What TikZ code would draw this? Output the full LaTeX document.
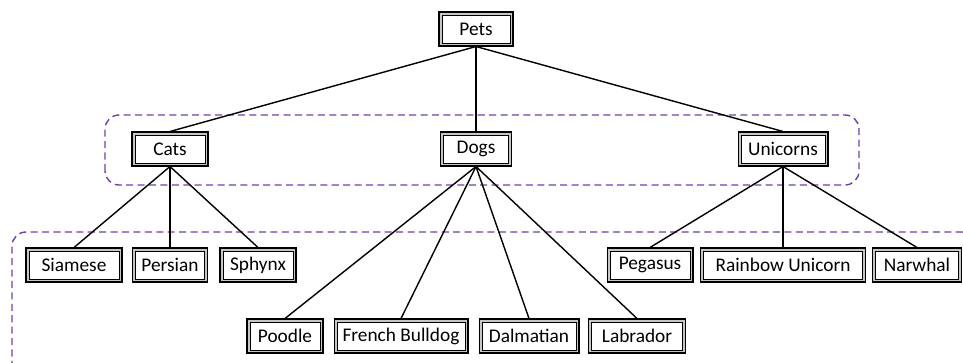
\documentclass[tikz,border=0pt]{standalone}
\usepackage{fontspec}
\setmainfont{Carlito}
\usepackage{tikz}
\usetikzlibrary{calc}

\definecolor{groupviolet}{RGB}{112,64,170}

\tikzset{
  petbox/.style={fill=white, draw=black, line width=0.45pt,
    preaction={draw=black, line width=4pt},
    preaction={draw=gray!45, line width=2.4pt},
    outer sep=2pt, minimum height=0.56cm, inner sep=2pt, font=\fontsize{11}{13}\selectfont},
  branch/.style={line width=0.8pt},
  groupframe/.style={draw=groupviolet, line width=0.8pt, dash pattern=on 4pt off 2.5pt, rounded corners=8pt}
}

\begin{document}
\begin{tikzpicture}[x=0.02cm,y=0.02cm]
  \useasboundingbox (0,0) rectangle (963,362);
  \clip (0,0) rectangle (963,362);

  % --------------------
  % Group frames
  % --------------------
  \draw[groupframe] (105,177) rectangle (859,247);
  \draw[groupframe] (12,-20) rectangle (975,130);

  % --------------------
  % Root
  % --------------------
  \node[petbox, minimum width=1.36cm] (pets) at (476,333) {Pets};

  % --------------------
  % Kinds
  % --------------------
  \node[petbox, minimum width=1.40cm] (cats)     at (170,213) {Cats};
  \node[petbox, minimum width=1.30cm] (dogs)     at (476,213) {Dogs};
  \node[petbox, minimum width=1.68cm] (unicorns) at (783,213) {Unicorns};

  % --------------------
  % Breeds
  % --------------------
  \node[petbox, minimum width=1.80cm] (siamese) at (74,97)  {Siamese};
  \node[petbox, minimum width=1.38cm] (persian) at (170,97) {Persian};
  \node[petbox, minimum width=1.40cm] (sphynx)  at (258,97) {Sphynx};

  \node[petbox, minimum width=1.40cm] (poodle)    at (285,26) {Poodle};
  \node[petbox, minimum width=2.56cm] (bulldog)   at (401,26) {French Bulldog};
  \node[petbox, minimum width=1.88cm] (dalmatian) at (529,26) {Dalmatian};
  \node[petbox, minimum width=1.82cm] (labrador)  at (637,26) {Labrador};

  \node[petbox, minimum width=1.60cm] (pegasus) at (650,97) {Pegasus};
  \node[petbox, minimum width=3.18cm] (rainbow) at (783,97) {Rainbow Unicorn};
  \node[petbox, minimum width=1.66cm] (narwhal) at (917,97) {Narwhal};

  % --------------------
  % Branches
  % --------------------
  \foreach \kid in {cats,dogs,unicorns} {
    \draw[branch] (pets.south) -- (\kid.north);
  }
  \foreach \kid in {siamese,persian,sphynx} {
    \draw[branch] (cats.south) -- (\kid.north);
  }
  \foreach \kid in {poodle,bulldog,dalmatian,labrador} {
    \draw[branch] (dogs.south) -- (\kid.north);
  }
  \foreach \kid in {pegasus,rainbow,narwhal} {
    \draw[branch] (unicorns.south) -- (\kid.north);
  }
\end{tikzpicture}
\end{document}
